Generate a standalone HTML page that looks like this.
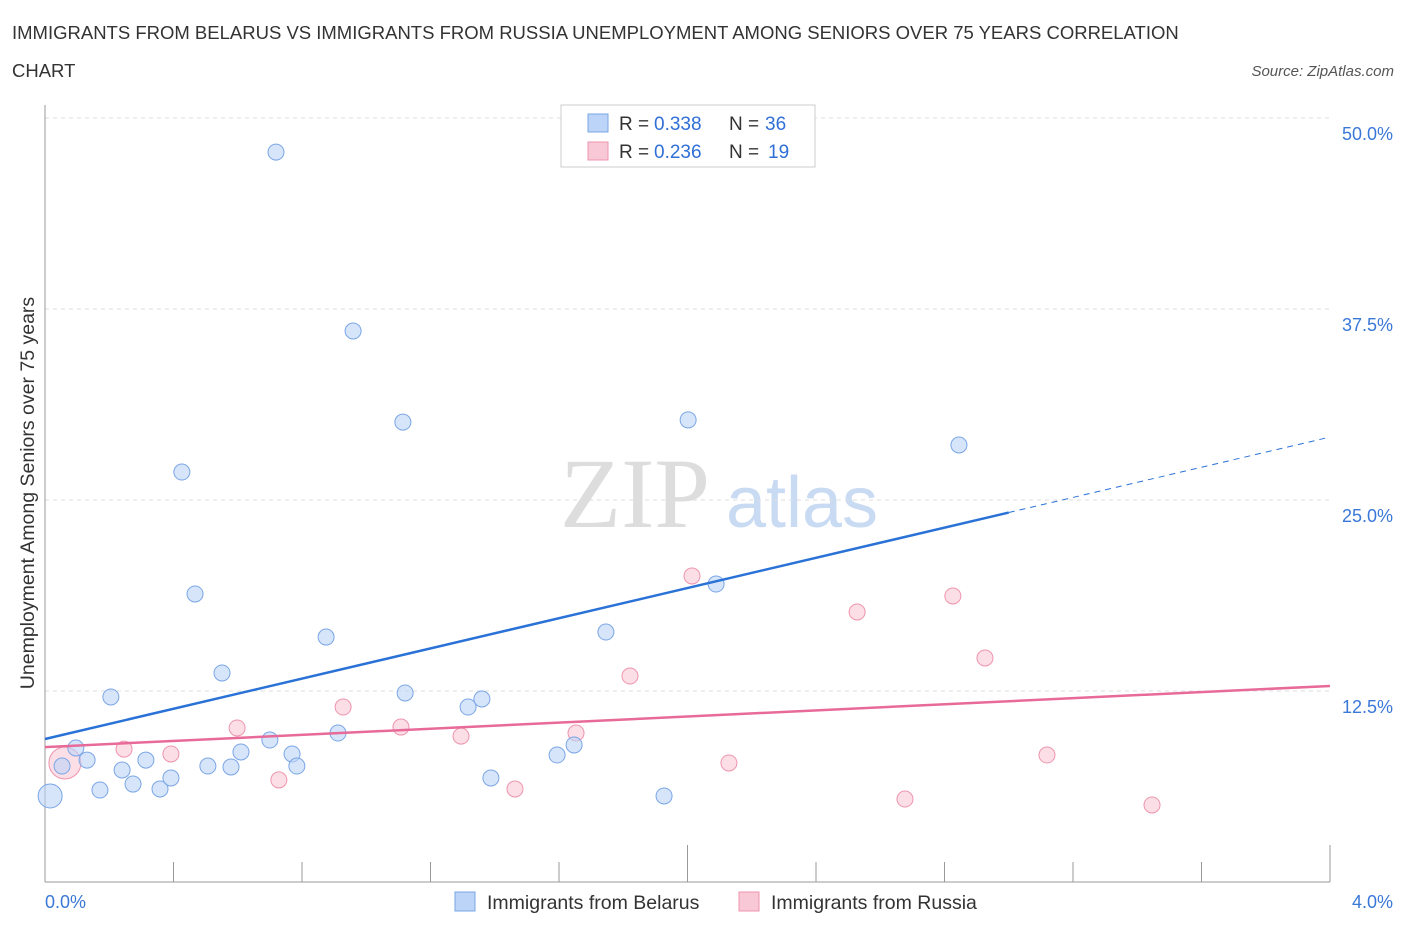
<!DOCTYPE html>
<html><head><meta charset="utf-8">
<style>
body{margin:0;background:#fff;font-family:"Liberation Sans",sans-serif;}
svg{display:block}
</style></head>
<body>
<svg id="chart" width="1406" height="930" viewBox="0 0 1406 930">
<text x="12" y="39" font-size="18.5" fill="#333">IMMIGRANTS FROM BELARUS VS IMMIGRANTS FROM RUSSIA UNEMPLOYMENT AMONG SENIORS OVER 75 YEARS CORRELATION</text>
<text x="12" y="77" font-size="18.5" fill="#333">CHART</text>
<text x="1394" y="76" font-size="15" fill="#555" font-style="italic" text-anchor="end">Source: ZipAtlas.com</text>
<text x="635" y="527" font-size="100" fill="#ddd" font-family="Liberation Serif,serif" text-anchor="middle">ZIP</text>
<text x="802" y="527" font-size="72" fill="#c9daf3" text-anchor="middle">atlas</text>
<text transform="translate(34,493) rotate(-90)" font-size="19.5" fill="#333" text-anchor="middle">Unemployment Among Seniors over 75 years</text>
<g id="grid"></g><g id="marks"></g>
<g>
<rect x="561" y="105" width="254" height="62" fill="#fff" stroke="#ccc"/>
<rect x="588" y="114" width="20" height="18" fill="#bcd4f7" stroke="#7aa6e6"/>
<text x="619" y="130" font-size="19" fill="#333">R = </text>
<text x="654" y="130" font-size="19" fill="#2f6fd6">0.338</text>
<text x="729" y="130" font-size="19" fill="#333">N = </text>
<text x="765" y="130" font-size="19" fill="#2f6fd6">36</text>
<rect x="588" y="142" width="20" height="18" fill="#f9c8d6" stroke="#ee94ae"/>
<text x="619" y="158" font-size="19" fill="#333">R = </text>
<text x="654" y="158" font-size="19" fill="#2f6fd6">0.236</text>
<text x="729" y="158" font-size="19" fill="#333">N = </text>
<text x="768" y="158" font-size="19" fill="#2f6fd6">19</text>
</g>
<g>
<rect x="455" y="892" width="20" height="19" fill="#bcd4f7" stroke="#7aa6e6"/>
<text x="487" y="909" font-size="19.5" fill="#333">Immigrants from Belarus</text>
<rect x="739" y="892" width="20" height="19" fill="#f9c8d6" stroke="#ee94ae"/>
<text x="771" y="909" font-size="19.5" fill="#333">Immigrants from Russia</text>
</g>
</svg>
<script>
const belarusX=[0.016,0.053,0.096,0.131,0.171,0.205,0.240,0.274,0.314,0.358,0.392,0.426,0.467,0.507,0.551,0.579,0.610,0.700,0.719,0.769,0.784,0.875,0.912,0.959,1.114,1.121,1.317,1.360,1.388,1.594,1.647,1.746,1.927,2.002,2.089,2.845];
const belarusY=[5.63,7.59,8.77,7.98,6.02,12.11,7.33,6.41,7.98,6.09,6.81,26.83,18.85,7.59,13.68,7.53,8.51,9.29,47.77,8.38,7.59,16.03,9.75,36.06,30.10,12.37,11.45,11.98,6.81,8.31,8.97,16.36,5.63,30.24,19.50,28.60];
const russiaX=[0.062,0.246,0.392,0.598,0.728,0.928,1.108,1.295,1.463,1.653,1.821,2.014,2.129,2.528,2.677,2.826,2.926,3.119,3.446];
const russiaY=[7.79,8.70,8.38,10.08,6.68,11.45,10.14,9.55,6.09,9.75,13.48,20.03,7.79,17.67,5.43,18.72,14.66,8.31,5.04];
const belarusTrend=[9.36,4.94]; // intercept, slope
const russiaTrend=[8.83,1.0];
const yTicks=[12.5,25.0,37.5,50.0];
const xTickVals=[0,0.4,0.8,1.2,1.6,2.0,2.4,2.8,3.2,3.6,4.0];
const NS='http://www.w3.org/2000/svg';
const sx=v=>45+v*321.25, sy=v=>882-v*15.28;
function mk(t,a,p){const e=document.createElementNS(NS,t);for(const k in a)e.setAttribute(k,a[k]);p.appendChild(e);return e;}
const grid=document.getElementById('grid'), marks=document.getElementById('marks');
yTicks.forEach(v=>{
 const l=mk('line',{x1:45,x2:1330,y1:sy(v),y2:sy(v),stroke:'#ddd','stroke-dasharray':'4,4'},grid);
 
 
 const t=mk('text',{x:1393,y:sy(v)+22,'font-size':18,fill:'#3a78d8','text-anchor':'end'},grid);
 t.textContent=v.toFixed(1)+'%';
 
 
});
const ax=mk('line',{x1:45,x2:45,y1:105,y2:882,stroke:'#999'},grid);


const bx=mk('line',{x1:45,x2:1330,y1:882,y2:882,stroke:'#999'},grid);


xTickVals.forEach((v,i)=>{
 const l=mk('line',{x1:sx(v),x2:sx(v),y1:(i==5||i==10)?845:862,y2:882,stroke:'#999'},grid);
 
 
});
[[0,'0.0%','start',45],[4,'4.0%','end',1393]].forEach(a=>{
 const t=mk('text',{x:a[3],y:908,'font-size':18,fill:'#3a78d8','text-anchor':a[2]},grid);
 t.textContent=a[1];
 
 
});
function dots(X,Y,fill,stroke,name,big){
 X.forEach((x,i)=>{
  const c=mk('circle',{cx:sx(x),cy:sy(Y[i]),r:i==0?big:8,fill:fill,stroke:stroke,'stroke-width':1,'fill-opacity':0.6},marks);
  
  
 });
}
dots(russiaX,russiaY,'#f9c8d6','#ee94ae','russia-point',16);
dots(belarusX,belarusY,'#bcd4f7','#7aa6e6','belarus-point',12);
const bl=mk('line',{x1:sx(0),y1:sy(belarusTrend[0]),x2:sx(3.0),y2:sy(belarusTrend[0]+belarusTrend[1]*3.0),stroke:'#2a72d6','stroke-width':2.5},marks);


const bd=mk('line',{x1:sx(3.0),y1:sy(belarusTrend[0]+belarusTrend[1]*3.0),x2:sx(4),y2:sy(belarusTrend[0]+belarusTrend[1]*4),stroke:'#2a72d6','stroke-width':1,'stroke-dasharray':'6,5'},marks);


const rl=mk('line',{x1:sx(0),y1:sy(russiaTrend[0]),x2:sx(4),y2:sy(russiaTrend[0]+russiaTrend[1]*4),stroke:'#e86a98','stroke-width':2.5},marks);


</script>
</body></html>
